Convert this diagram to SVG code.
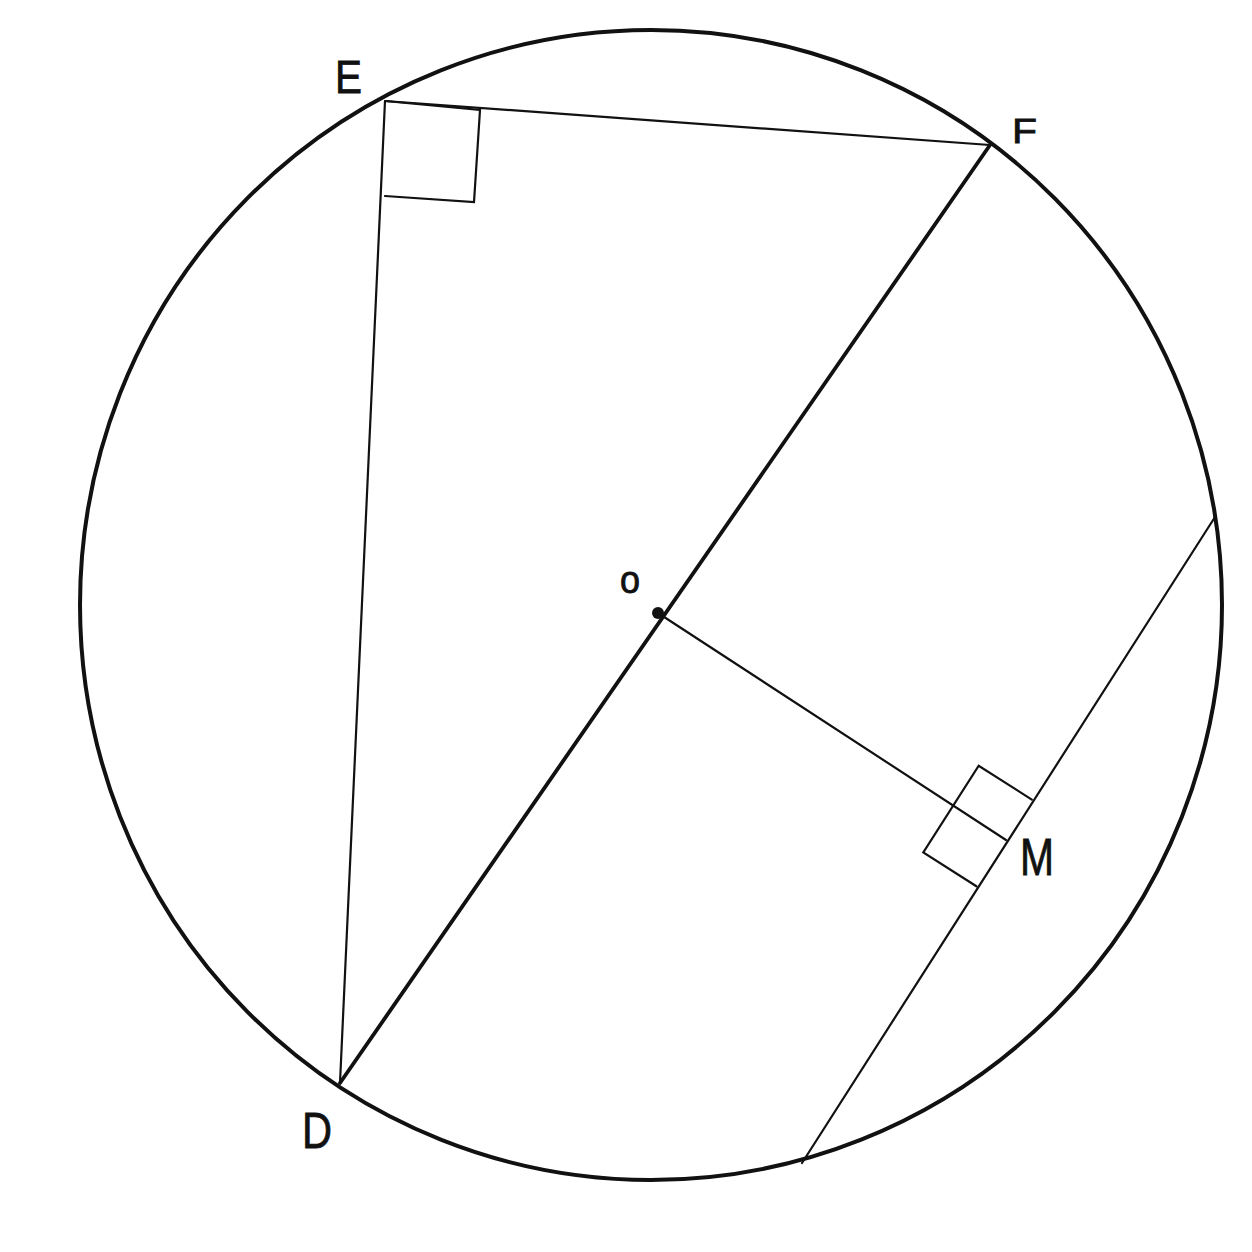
<svg xmlns="http://www.w3.org/2000/svg" width="1252" height="1252" viewBox="0 0 1252 1252">
<style>
.ln{fill:none;stroke:#111;stroke-linecap:round;stroke-linejoin:miter}
.lbl{font-family:"Liberation Sans",Arial,sans-serif;fill:#111;stroke:#111;stroke-width:0.8}
</style>
<rect width="1252" height="1252" fill="#fff"/>
<g id="circle"><ellipse class="ln" cx="651" cy="605" rx="571" ry="575" stroke-width="4"/></g>
<g id="connectors">
<line id="EF" class="ln" x1="385" y1="101" x2="990" y2="145" stroke-width="2.2"/>
<line id="ED" class="ln" x1="385" y1="101" x2="340" y2="1083" stroke-width="2.2"/>
<line id="DF" class="ln" x1="340" y1="1083" x2="990" y2="145" stroke-width="3.8"/>
<line id="OM" class="ln" x1="658" y1="613" x2="1006" y2="840" stroke-width="2.2"/>
<line id="chord" class="ln" x1="1215" y1="517" x2="802" y2="1163" stroke-width="2.2"/>
<polyline id="rightE" class="ln" points="385,101 480,110 474,202 385,196" stroke-width="2.2"/>
<polyline id="rightM" class="ln" points="1031.8,799.6 978.7,765.7 923.3,852.4 976.4,886.3" stroke-width="2.2"/>
</g>
<g id="O"><circle cx="658" cy="613" r="6" fill="#111"/><text class="lbl" x="630" y="593" font-size="36" text-anchor="middle" transform="translate(630 593) scale(1 1.1) translate(-630 -593)">o</text></g>
<g id="E"><text class="lbl" x="335" y="93" font-size="46" textLength="27" lengthAdjust="spacingAndGlyphs">E</text></g>
<g id="F"><text class="lbl" x="1012" y="143" font-size="35" textLength="25" lengthAdjust="spacingAndGlyphs">F</text></g>
<g id="M"><text class="lbl" x="1020" y="875" font-size="52" textLength="34" lengthAdjust="spacingAndGlyphs">M</text></g>
<g id="D"><text class="lbl" x="302" y="1148" font-size="50" textLength="30" lengthAdjust="spacingAndGlyphs">D</text></g>
</svg>
